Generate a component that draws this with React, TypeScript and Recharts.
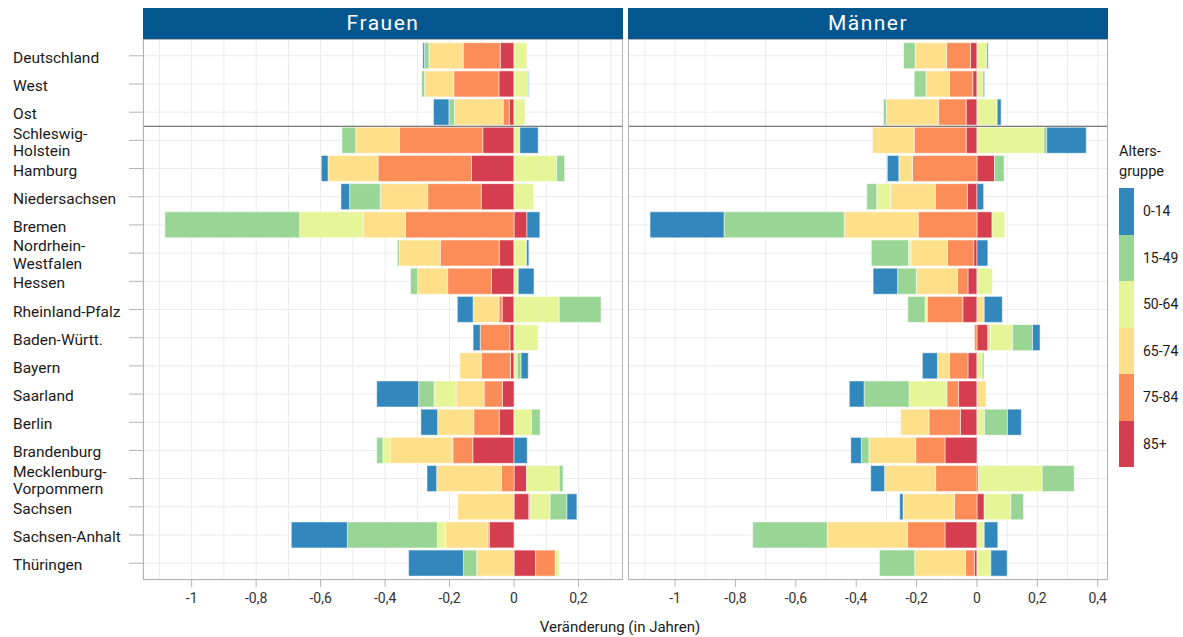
import React from 'react';
import { BarChart, Bar, XAxis, YAxis, CartesianGrid, ReferenceLine } from 'recharts';

// Bundesländer (top to bottom)
const categories = [
  'Deutschland', 'West', 'Ost', 'Schleswig-Holstein', 'Hamburg', 'Niedersachsen', 'Bremen',
  'Nordrhein-Westfalen', 'Hessen', 'Rheinland-Pfalz', 'Baden-Württ.', 'Bayern', 'Saarland',
  'Berlin', 'Brandenburg', 'Mecklenburg-Vorpommern', 'Sachsen', 'Sachsen-Anhalt', 'Thüringen',
];
const categoryLabels = [
  'Deutschland', 'West', 'Ost', 'Schleswig-\nHolstein', 'Hamburg', 'Niedersachsen', 'Bremen',
  'Nordrhein-\nWestfalen', 'Hessen', 'Rheinland-Pfalz', 'Baden-Württ.', 'Bayern', 'Saarland',
  'Berlin', 'Brandenburg', 'Mecklenburg-\nVorpommern', 'Sachsen', 'Sachsen-Anhalt', 'Thüringen',
];

// stacking order from zero outwards
const ageGroups = ['85+', '75-84', '65-74', '50-64', '15-49', '0-14'];
const legendOrder = ['0-14', '15-49', '50-64', '65-74', '75-84', '85+'];
const ageColors: Record<string, string> = {
  '0-14': '#3288bd',
  '15-49': '#99d594',
  '50-64': '#e6f598',
  '65-74': '#fee08b',
  '75-84': '#fc8d59',
  '85+': '#d53e4f',
};

// Frauen
const frauen85 = [-0.043, -0.047, -0.015, -0.097, -0.132, -0.102, 0.040, -0.046, -0.070, -0.037, -0.013, -0.011, -0.036, -0.046, -0.128, 0.039, 0.046, -0.077, 0.067];
const frauen75 = [-0.115, -0.140, -0.019, -0.259, -0.290, -0.166, -0.337, -0.183, -0.136, -0.010, -0.092, -0.091, -0.057, -0.079, -0.062, -0.039, 0.004, -0.004, 0.061];
const frauen65 = [-0.106, -0.091, -0.151, -0.135, -0.155, -0.147, -0.132, -0.127, -0.093, -0.080, 0, -0.066, -0.087, -0.112, -0.195, -0.201, -0.175, -0.132, -0.116];
const frauen50 = [0.040, 0.045, 0.034, 0.018, 0.132, 0.061, -0.196, 0.039, 0.013, 0.140, 0.075, 0.010, -0.068, 0.054, -0.022, 0.101, 0.062, -0.025, 0.012];
const frauen15 = [-0.014, -0.009, -0.017, -0.043, 0.025, -0.095, -0.418, -0.006, -0.022, 0.130, 0, 0.012, -0.048, 0.027, -0.019, 0.012, 0.052, -0.279, -0.041];
const frauen0 = [-0.005, 0.002, -0.048, 0.057, -0.021, -0.027, 0.040, 0.007, 0.049, -0.049, -0.022, 0.022, -0.130, -0.052, 0.041, -0.030, 0.031, -0.174, -0.170];

// Männer
const maenner85 = [-0.022, -0.014, -0.036, -0.036, 0.058, -0.032, 0.050, -0.011, -0.030, -0.047, 0.036, -0.030, -0.061, -0.055, -0.106, 0.005, 0.024, -0.106, -0.009];
const maenner75 = [-0.079, -0.077, -0.092, -0.172, -0.214, -0.106, -0.195, -0.087, -0.035, -0.118, -0.008, -0.062, -0.039, -0.104, -0.097, -0.137, -0.075, -0.124, -0.029];
const maenner65 = [-0.104, -0.078, -0.172, -0.138, -0.045, -0.148, -0.245, -0.121, -0.136, 0.024, 0.009, -0.039, 0.030, -0.094, -0.155, -0.169, -0.170, -0.266, -0.168];
const maenner50 = [0.033, 0.021, 0.067, 0.222, 0, -0.046, 0.042, -0.008, 0.051, -0.007, 0.073, 0.017, -0.125, 0.025, 0, 0.211, 0.088, 0.024, 0.046];
const maenner15 = [-0.038, -0.039, -0.010, 0.009, 0.032, -0.033, -0.398, -0.123, -0.062, -0.057, 0.066, 0.006, -0.149, 0.076, -0.025, 0.106, 0.042, -0.247, -0.117];
const maenner0 = [0.004, 0.004, 0.013, 0.131, -0.038, 0.022, -0.245, 0.036, -0.081, 0.060, 0.025, -0.050, -0.049, 0.046, -0.035, -0.046, -0.011, 0.045, 0.054];

const frauenTicks = [-1, -0.8, -0.6, -0.4, -0.2, 0, 0.2];
const maennerTicks = [-1, -0.8, -0.6, -0.4, -0.2, 0, 0.2, 0.4];
const frauenGrid = [-1.1, -1, -0.9, -0.8, -0.7, -0.6, -0.5, -0.4, -0.3, -0.2, -0.1, 0, 0.1, 0.2, 0.3];
const maennerGrid = [-1.1, -1, -0.9, -0.8, -0.7, -0.6, -0.5, -0.4, -0.3, -0.2, -0.1, 0, 0.1, 0.2, 0.3, 0.4];

const buildRows = (cols: number[][]) =>
  categories.map((name, i) => {
    const row: Record<string, any> = { name };
    ageGroups.forEach((g, k) => { row[g] = cols[k][i]; });
    return row;
  });

const frauenData = buildRows([frauen85, frauen75, frauen65, frauen50, frauen15, frauen0]);
const maennerData = buildRows([maenner85, maenner75, maenner65, maenner50, maenner15, maenner0]);

const FONT = 'Roboto, "DejaVu Sans", sans-serif';
const GRID = '#ebebeb';
const BORDER = '#b3b3b3';
const STRIP = '#04568f';

const fmt = (v: number) => String(v).replace('.', ',');

function CategoryTick(props: any) {
  const { y, payload } = props;
  const idx = categories.indexOf(payload.value);
  const lines = (idx >= 0 ? categoryLabels[idx] : String(payload.value)).split('\n');
  return (
    <text x={13} y={y} fontSize={15.5} fill="#1a1a1a" fontFamily={FONT} textAnchor="start">
      {lines.map((l, i) => (
        <tspan key={i} x={13} y={y + (i - (lines.length - 1) / 2) * 17.5 + 7}>{l}</tspan>
      ))}
    </text>
  );
}

function Panel({ data, domain, ticks, grid, showY }: any) {
  const yWidth = showY ? 143 : 0;
  return (
    <BarChart
      width={yWidth + 480}
      height={611}
      data={data}
      layout="vertical"
      stackOffset="sign"
      barCategoryGap={1}
      margin={{ top: 39, right: 0, bottom: 0, left: 0 }}
    >
      <XAxis xAxisId="grid" type="number" domain={domain} ticks={grid} allowDataOverflow hide />
      <CartesianGrid xAxisId="grid" stroke={GRID} strokeWidth={1} />
      <XAxis
        type="number"
        domain={domain}
        ticks={ticks}
        allowDataOverflow
        height={31}
        axisLine={false}
        tickLine={{ stroke: BORDER }}
        tickSize={7}
        tickMargin={6}
        tickFormatter={fmt}
        tick={{ fontSize: 14, fill: '#333', fontFamily: FONT }}
      />
      <YAxis
        type="category"
        dataKey="name"
        width={yWidth}
        hide={!showY}
        padding={{ top: 2.7, bottom: 2.7 }}
        axisLine={false}
        tickLine={{ stroke: BORDER }}
        tickSize={14}
        interval={0}
        tick={<CategoryTick />}
      />
      {ageGroups.map((g) => (
        <Bar
          key={g}
          dataKey={g}
          stackId="a"
          fill={ageColors[g]}
          stroke="#ffffff"
          strokeWidth={0.5}
          isAnimationActive={false}
        />
      ))}
      <ReferenceLine y="Schleswig-Holstein" position="start" stroke="#555" strokeWidth={1.2} />
    </BarChart>
  );
}

export default function App() {
  const abs = (left: number, top: number, extra: any = {}) => ({ position: 'absolute' as const, left, top, ...extra });
  return (
    <div style={{ position: 'absolute', left: 0, top: 0, width: 1183, height: 637, background: '#fff', fontFamily: FONT, color: '#1a1a1a' }}>
      <div style={abs(0, 0)}>
        <Panel data={frauenData} domain={[-1.151, 0.338]} ticks={frauenTicks} grid={frauenGrid} showY />
      </div>
      <div style={abs(628, 0)}>
        <Panel data={maennerData} domain={[-1.156, 0.434]} ticks={maennerTicks} grid={maennerGrid} showY={false} />
      </div>

      {/* panel borders */}
      <div style={abs(143, 39, { width: 480, height: 541, border: `1px solid ${BORDER}`, boxSizing: 'border-box', pointerEvents: 'none' })} />
      <div style={abs(628, 39, { width: 480, height: 541, border: `1px solid ${BORDER}`, boxSizing: 'border-box', pointerEvents: 'none' })} />

      {/* facet strips */}
      {[['Frauen', 143], ['Männer', 628]].map(([label, left]) => (
        <div
          key={label as string}
          style={abs(left as number, 8, {
            width: 480, height: 31, background: STRIP, color: '#fff', fontSize: 21,
            letterSpacing: 1.5, lineHeight: '31px', textAlign: 'center',
          })}
        >
          {label}
        </div>
      ))}

      {/* x axis title */}
      <div style={abs(420, 617, { width: 400, textAlign: 'center', fontSize: 15, lineHeight: '20px' })}>
        Veränderung (in Jahren)
      </div>

      {/* legend */}
      <div style={abs(1119, 142, { fontSize: 14.5, lineHeight: '20px' })}>
        Alters-<br />gruppe
      </div>
      {legendOrder.map((g, i) => (
        <React.Fragment key={g}>
          <div style={abs(1119, 188 + i * 46.5, { width: 15, height: 46.5, background: ageColors[g] })} />
          <div style={abs(1143, 188 + i * 46.5, { height: 46.5, lineHeight: '46.5px', fontSize: 14 })}>{g}</div>
        </React.Fragment>
      ))}
    </div>
  );
}
